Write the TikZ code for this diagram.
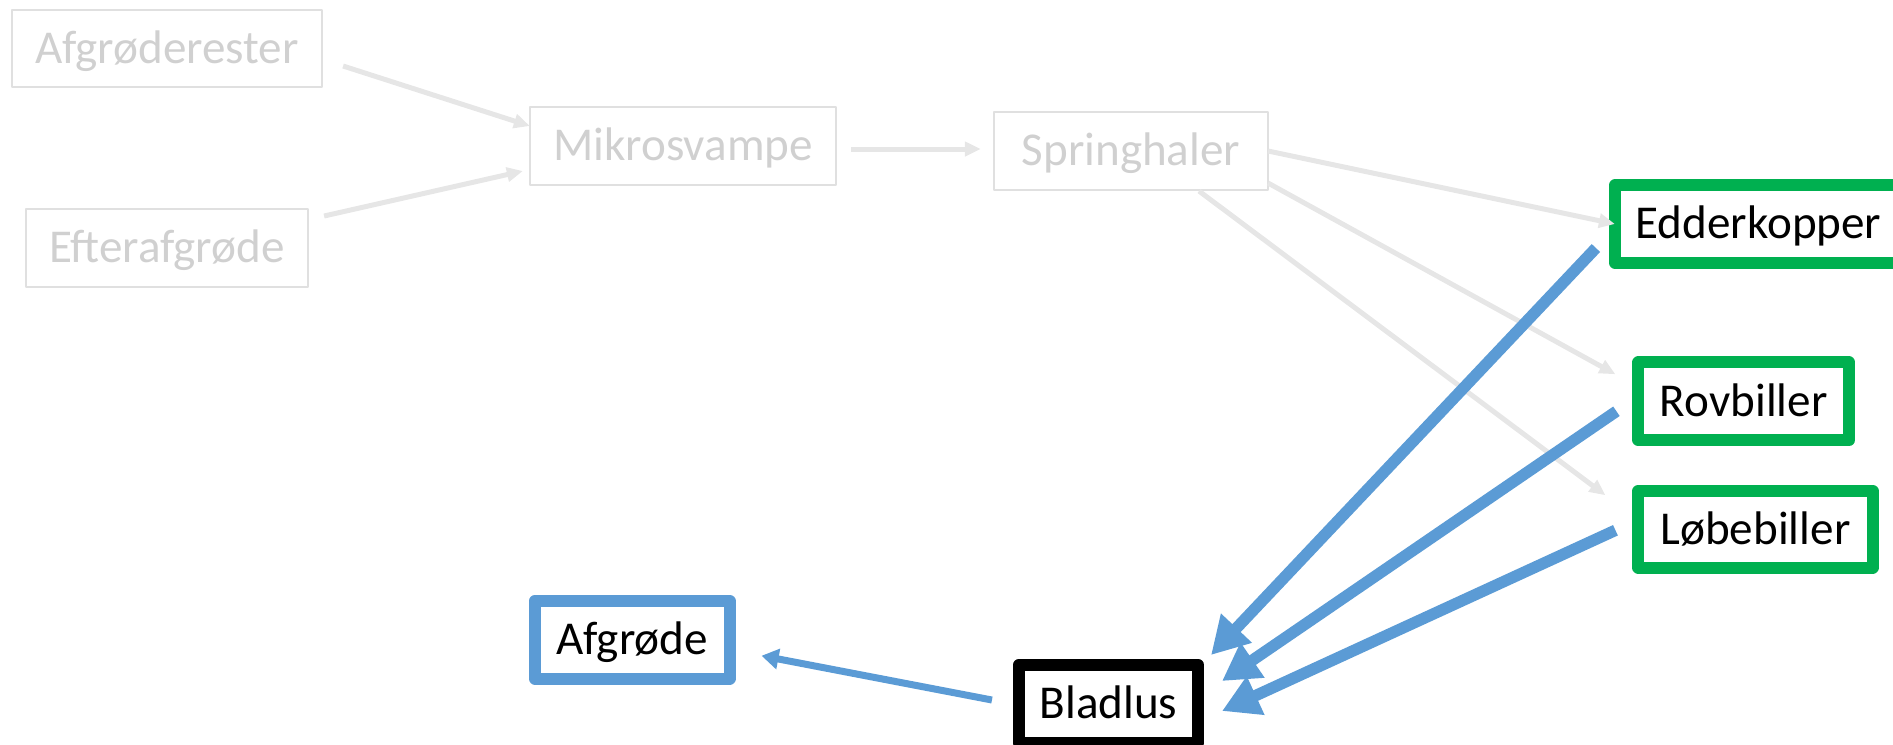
\documentclass[tikz,border=0pt]{standalone}
\usepackage{fontspec}
\setmainfont{Carlito}
\usetikzlibrary{arrows.meta,calc}

\definecolor{boxgrey}{HTML}{E0E0E0}
\definecolor{textgrey}{HTML}{D0D0D0}
\definecolor{linegrey}{HTML}{E6E6E6}
\definecolor{predgreen}{HTML}{00B050}
\definecolor{pestblue}{HTML}{5B9BD5}

\begin{document}
\begin{tikzpicture}[x=0.01cm, y=-0.01cm,
    every node/.style={font=\fontsize{13.4}{16}\selectfont, inner sep=0pt, outer sep=0pt,
      text height=0.96em, text depth=0.12em, line join=round},
    faded/.style={draw=boxgrey, line width=0.2mm, text=textgrey},
    predator/.style={draw=predgreen, line width=1.2mm},
    greyarrow/.style={draw=linegrey, line width=0.5mm, -{Triangle[length=1.6mm, width=1.4mm]}},
    eatarrow/.style={draw=pestblue, line width=1.15mm, -{Triangle[length=3.7mm, width=4mm]}},
    cropbox/.style={draw=pestblue, line width=1.2mm}]
    \useasboundingbox (0, 0) rectangle (1893, 744);

    % soil food web (faded)
    \node[faded, minimum width=31mm, minimum height=7.7mm] (afgrest) at (167, 48.5) {Afgrøderester};
    \node[faded, minimum width=28.2mm, minimum height=7.8mm] (efter) at (167, 248) {Efterafgrøde};
    \node[faded, minimum width=30.6mm, minimum height=7.8mm] (mikro) at (683, 146) {Mikrosvampe};
    \node[faded, minimum width=27.4mm, minimum height=7.8mm] (spring) at (1131, 151) {Springhaler};

    % predators
    \node[predator, minimum width=28.7mm, minimum height=7.7mm] (edder) at (1758.5, 224) {Edderkopper};
    \node[predator, minimum width=21.05mm, minimum height=7.75mm] (rov) at (1743.75, 401.25) {Rovbiller};
    \node[predator, minimum width=23.4mm, minimum height=7.65mm] (loebe) at (1755.5, 529.25) {Løbebiller};

    \node[cropbox, minimum width=19.45mm, minimum height=7.75mm] (afgr) at (632.25, 639.75) {Afgrøde};
    \node[draw=black, line width=1.2mm, minimum width=17.9mm, minimum height=7.8mm] (blad) at (1108.5, 704) {Bladlus};

    \draw[greyarrow] ($(afgrest.east)+(21, 17.5)$) -- ($(mikro.west)+(0, -20)$);
    \draw[greyarrow] ($(efter.east)+(16, -32)$) -- ($(mikro.west)+(-7, 25)$);
    \draw[greyarrow] ($(mikro.east)+(15, 3)$) -- ($(spring.west)+(-13, -2)$);
    \draw[greyarrow] (spring.east) -- (edder.west);
    \draw[greyarrow] ($(spring.south east)+(0, -7)$) -- ($(rov.west)+(-23, -27)$);
    \draw[greyarrow] ($(spring.south)+(68, 1)$) -- ($(loebe.west)+(-33, -34)$);

    \draw[eatarrow] ($(edder.west)+(-19, 24)$) -- ($(blad.north east)+(13, -10)$);
    \draw[eatarrow] ($(rov.west)+(-22, 10)$) -- ($(blad.east)+(24, -23)$);
    \draw[eatarrow] ($(loebe.west)+(-23, 1)$) -- ($(blad.east)+(24, 7)$);
    \draw[pestblue, line width=0.7mm, -{Triangle[length=1.7mm, width=2mm]}]
      ($(blad.west)+(-27, -4)$) -- ($(afgr.east)+(32, 16)$);
\end{tikzpicture}
\end{document}
